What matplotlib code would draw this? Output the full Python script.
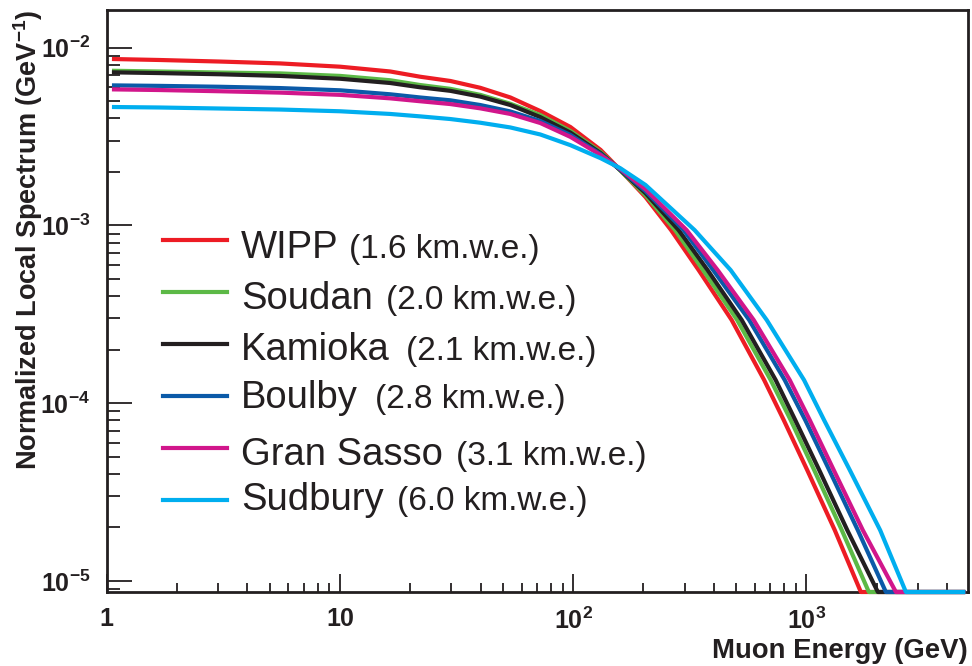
import matplotlib
matplotlib.use("Agg")
import matplotlib.pyplot as plt
from matplotlib.ticker import FixedLocator, FixedFormatter, LogLocator, NullFormatter

plt.rcParams['font.family'] = ['Liberation Sans', 'DejaVu Sans']
plt.rcParams['mathtext.fontset'] = 'custom'
plt.rcParams['mathtext.rm'] = 'Liberation Sans'
plt.rcParams['mathtext.bf'] = 'Liberation Sans:bold'

# spectrum floor (lower edge of the plot); curves run along it once they drop out
FLOOR = 0.867e-5
E_END = 4800

# low-energy part: spectrum (1/GeV) at common muon energies (GeV)
flat_e = [1.05, 1.68, 3.05, 5.52, 10, 16.4, 22.0, 29.7, 39.9, 53.7, 72.2, 97.2, 131, 159, 204]
wipp_flat = [8.64e-3, 8.53e-3, 8.36e-3, 8.16e-3, 7.82e-3, 7.35e-3, 6.87e-3, 6.50e-3,
             5.95e-3, 5.25e-3, 4.40e-3, 3.58e-3, 2.66e-3, 2.05e-3, 1.445e-3]
soudan_flat = [7.42e-3, 7.35e-3, 7.25e-3, 7.17e-3, 6.94e-3, 6.56e-3, 6.17e-3, 5.87e-3,
               5.43e-3, 4.84e-3, 4.18e-3, 3.40e-3, 2.59e-3, 2.04e-3, 1.48e-3]
kamioka_flat = [7.27e-3, 7.20e-3, 7.09e-3, 6.94e-3, 6.69e-3, 6.33e-3, 5.99e-3, 5.72e-3,
                5.31e-3, 4.76e-3, 4.07e-3, 3.33e-3, 2.555e-3, 2.05e-3, 1.52e-3]
boulby_flat = [6.14e-3, 6.10e-3, 6.03e-3, 5.93e-3, 5.76e-3, 5.47e-3, 5.25e-3, 5.06e-3,
               4.76e-3, 4.38e-3, 3.87e-3, 3.23e-3, 2.52e-3, 2.06e-3, 1.56e-3]
gransasso_flat = [5.83e-3, 5.78e-3, 5.69e-3, 5.59e-3, 5.43e-3, 5.19e-3, 5.00e-3, 4.82e-3,
                  4.56e-3, 4.24e-3, 3.77e-3, 3.15e-3, 2.49e-3, 2.08e-3, 1.60e-3]
sudbury_flat = [4.64e-3, 4.61e-3, 4.55e-3, 4.49e-3, 4.39e-3, 4.24e-3, 4.11e-3, 3.97e-3,
                3.785e-3, 3.56e-3, 3.25e-3, 2.83e-3, 2.39e-3, 2.10e-3, 1.69e-3]

# high-energy tail: energy (GeV) at which each spectrum falls to the common levels
tail_s = [9.42e-4, 5.61e-4, 2.94e-4, 1.35e-4, 8.04e-5, 4.20e-5, 1.93e-5, FLOOR]
wipp_tail = [262.6, 344.8, 477.6, 658.6, 799.0, 1008, 1323, 1711]
soudan_tail = [273.3, 360.3, 504.3, 702.6, 856.1, 1080, 1418, 1852]
kamioka_tail = [282.9, 376.7, 527.5, 738.1, 895.0, 1135, 1497, 2024]
boulby_tail = [297.2, 397.9, 567.9, 807.0, 988.1, 1253, 1661, 2191]
gransasso_tail = [306.1, 415.9, 593.8, 847.8, 1033, 1310, 1745, 2419]
sudbury_tail = [331.3, 472.9, 675.3, 976.6, 1190, 1535, 2071, 2670]

lab_names = ["WIPP", "Soudan", "Kamioka", "Boulby", "Gran Sasso", "Sudbury"]
lab_depths = ["(1.6 km.w.e.)", "(2.0 km.w.e.)", "(2.1 km.w.e.)",
              "(2.8 km.w.e.)", "(3.1 km.w.e.)", "(6.0 km.w.e.)"]
lab_colors = ["#ed1c24", "#5cb946", "#231f20", "#0b5aa8", "#d1168b", "#00aeef"]

x_ticks = [1, 10, 100, 1000]
x_ticklabels = [r"$\mathbf{1}$", r"$\mathbf{10}$", r"$\mathbf{10^{2}}$", r"$\mathbf{10^{3}}$"]
y_ticks = [1e-5, 1e-4, 1e-3, 1e-2]
y_ticklabels = [r"$\mathbf{10^{-5}}$", r"$\mathbf{10^{-4}}$", r"$\mathbf{10^{-3}}$", r"$\mathbf{10^{-2}}$"]

flats = [wipp_flat, soudan_flat, kamioka_flat, boulby_flat, gransasso_flat, sudbury_flat]
tails = [wipp_tail, soudan_tail, kamioka_tail, boulby_tail, gransasso_tail, sudbury_tail]

TEXT = "#231f20"

fig = plt.figure(figsize=(9.72, 6.66), dpi=100)
ax = fig.add_axes([107 / 972, 74 / 666, 861 / 972, 582 / 666])

for flat, tail, c in zip(flats, tails, lab_colors):
    e = flat_e + tail + [E_END]
    s = flat + tail_s + [FLOOR]
    ax.plot(e, s, color=c, lw=3.0, solid_capstyle='butt', solid_joinstyle='round',
            clip_on=False, zorder=3)

ax.set_xscale('log')
ax.set_yscale('log')
ax.set_xlim(1, 4930)
ax.set_ylim(FLOOR, 1.63e-2)

for sp in ax.spines.values():
    sp.set_linewidth(2.0)
    sp.set_color(TEXT)

ax.xaxis.set_major_locator(FixedLocator(x_ticks))
ax.xaxis.set_major_formatter(FixedFormatter(x_ticklabels))
ax.yaxis.set_major_locator(FixedLocator(y_ticks))
ax.yaxis.set_major_formatter(FixedFormatter(y_ticklabels))
ax.xaxis.set_minor_locator(LogLocator(base=10, subs=range(2, 10), numticks=20))
ax.yaxis.set_minor_locator(LogLocator(base=10, subs=range(2, 10), numticks=20))
ax.xaxis.set_minor_formatter(NullFormatter())
ax.yaxis.set_minor_formatter(NullFormatter())

ax.tick_params(axis='x', which='major', direction='in', length=13, width=1.3,
               labelsize=18, pad=11, colors=TEXT)
ax.tick_params(axis='x', which='minor', direction='in', length=6.5, width=1.3, colors=TEXT)
ax.tick_params(axis='y', which='major', direction='in', length=18, width=1.3,
               labelsize=18, pad=12, colors=TEXT)
ax.tick_params(axis='y', which='minor', direction='in', length=9, width=1.3, colors=TEXT)

# axis titles, ROOT style: right/top aligned
fig.text(28 / 972, 1 - 10 / 666, r"Normalized Local Spectrum (GeV$^{\mathbf{-1}}$)",
         rotation=90, ha='center', va='top', fontsize=19.5, fontweight='bold', color=TEXT)
fig.text(968 / 972, 1 - 651 / 666, "Muon Energy (GeV)", ha='right', va='center',
         fontsize=19.8, fontweight='bold', color=TEXT)

# hand-built legend: large lab name, smaller depth
row_y = [240, 291.7, 344, 395.7, 448.3, 500]
name_base = [258, 309, 360, 408, 465, 510]
depth_x = [349, 386, 406, 375, 456, 397]
for i, (name, depth, c) in enumerate(zip(lab_names, lab_depths, lab_colors)):
    ax.plot([163 / 972, 227 / 972], [1 - row_y[i] / 666] * 2, color=c, lw=3.0,
            transform=fig.transFigure, clip_on=False)
    fig.text(241 / 972, 1 - name_base[i] / 666, name, ha='left', va='baseline',
             fontsize=27.5, color=TEXT)
    fig.text(depth_x[i] / 972, 1 - name_base[i] / 666, depth, ha='left', va='baseline',
             fontsize=24, color=TEXT)

fig.savefig("out.png", dpi=100)
